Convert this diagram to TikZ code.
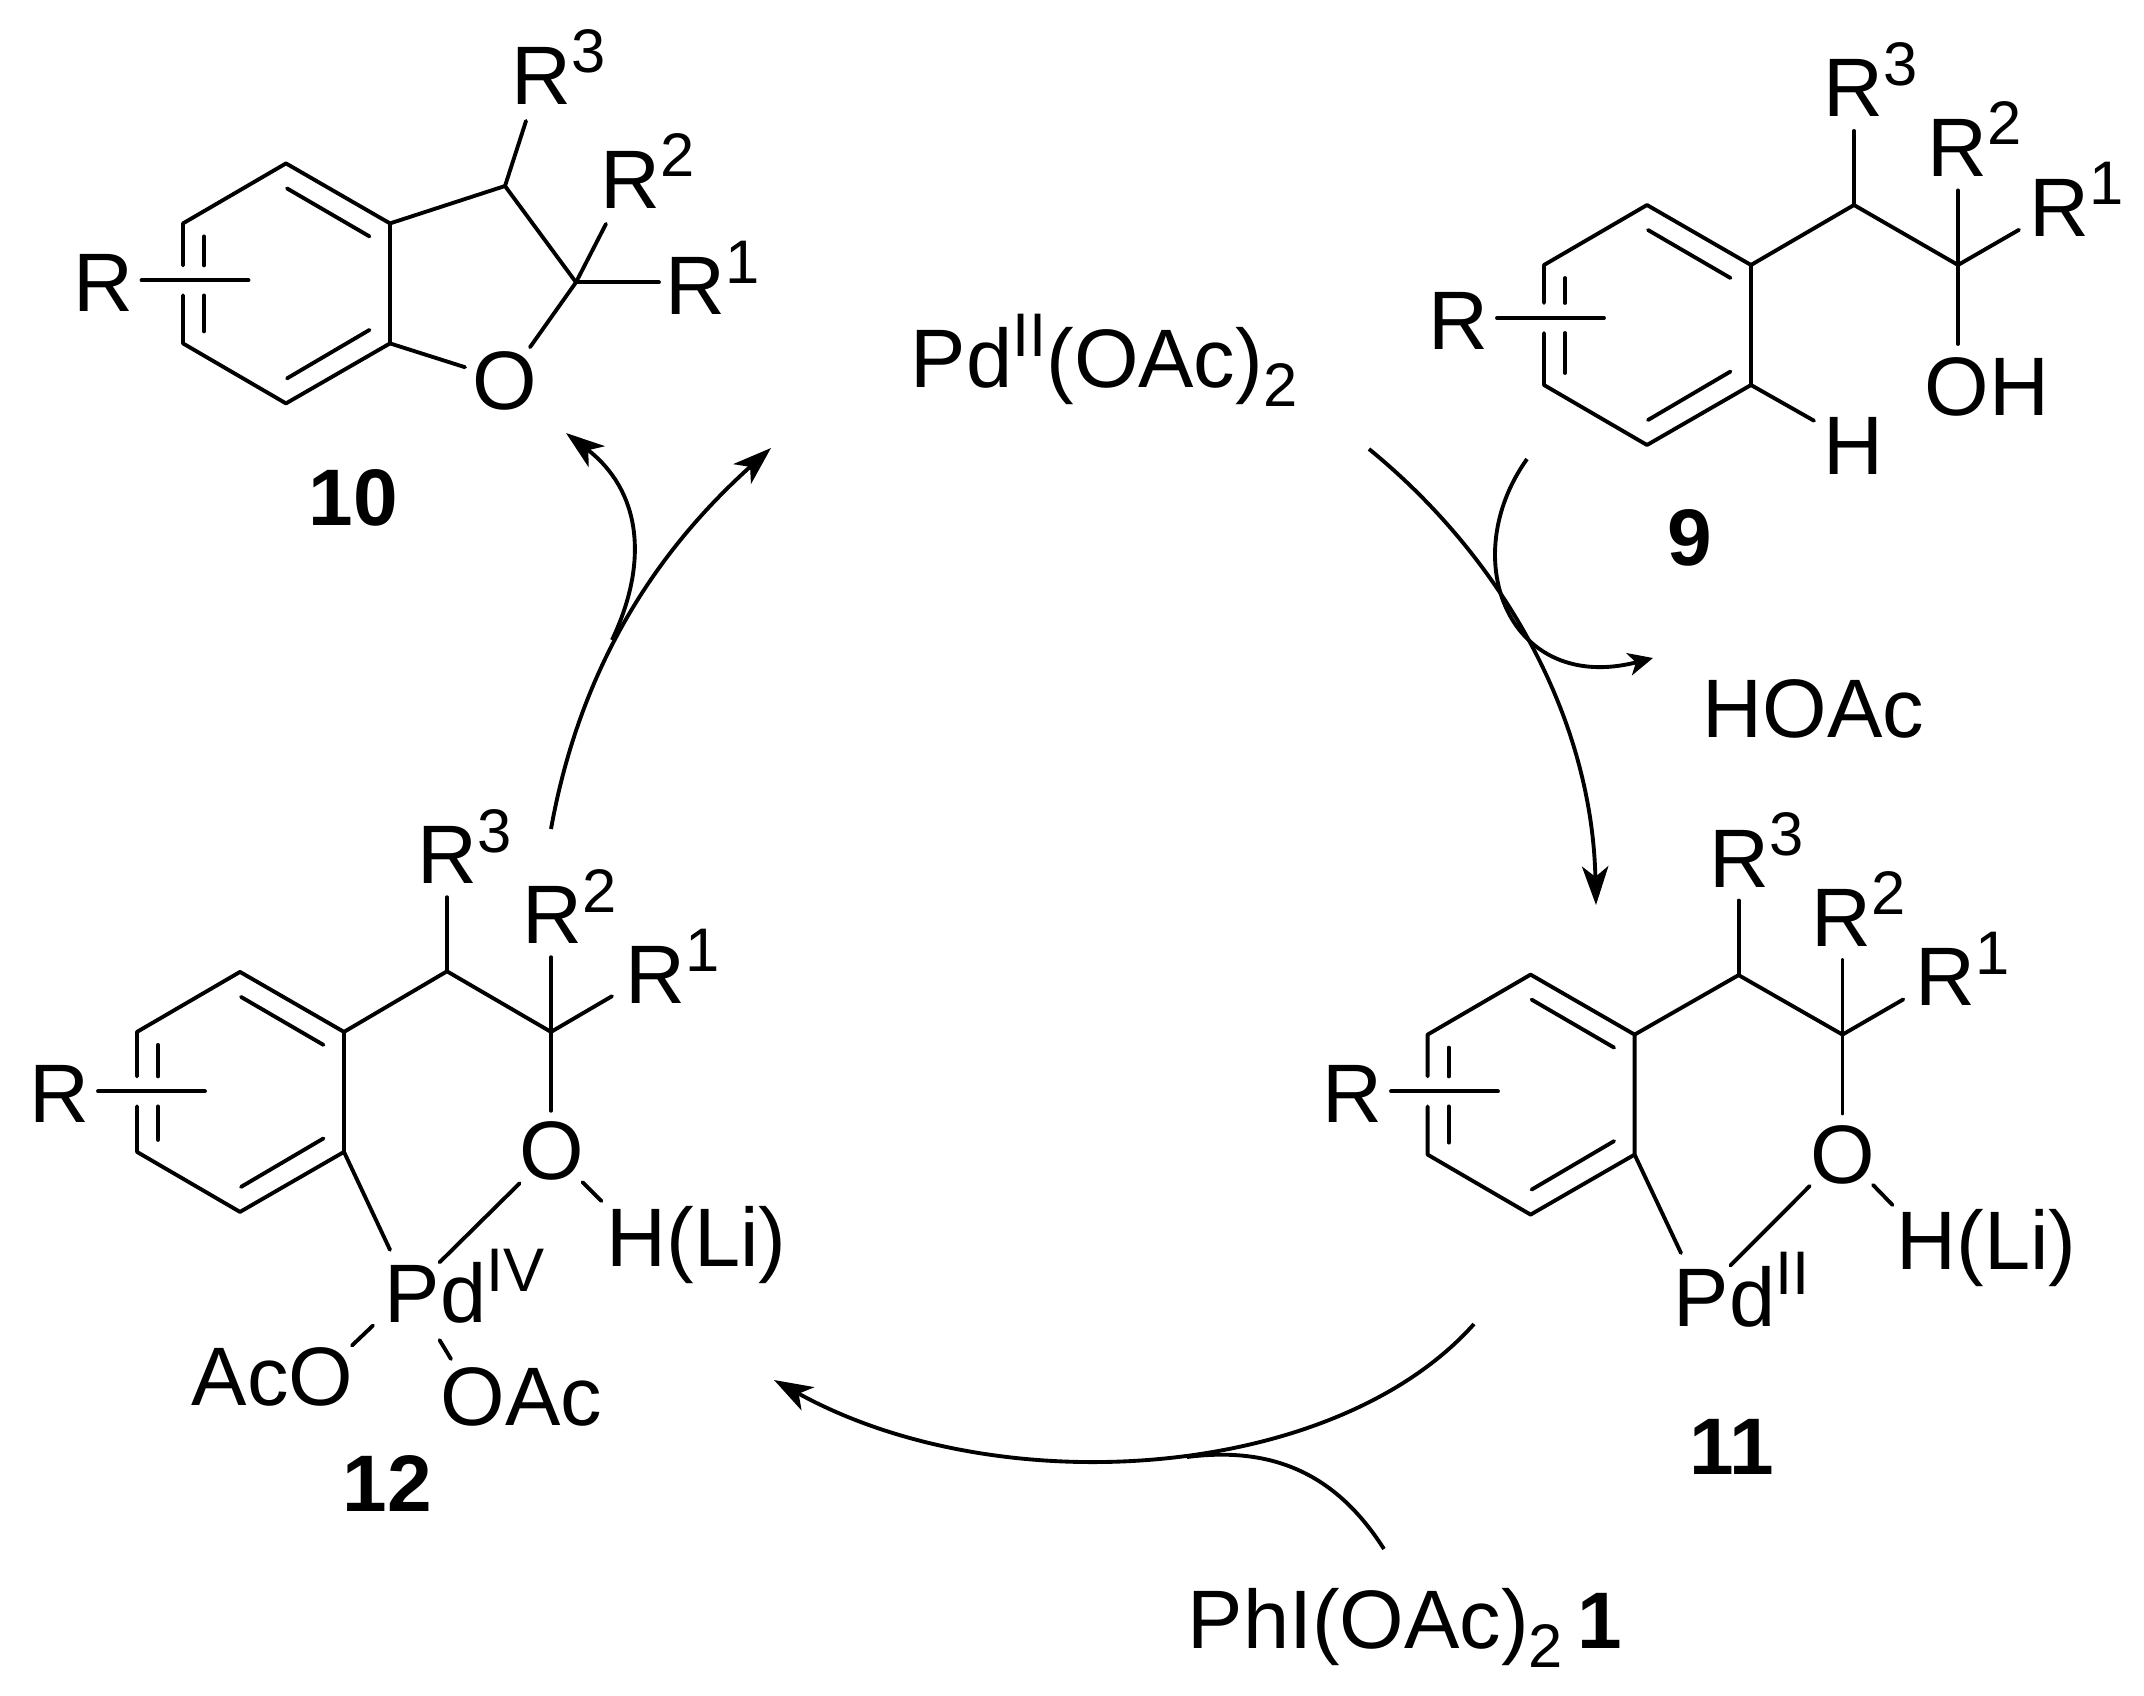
\documentclass[tikz,border=0pt]{standalone}
\usepackage{fontspec}
\setmainfont{Liberation Sans}
\usetikzlibrary{arrows.meta}
\newcommand{\chemfont}{\fontsize{23.6}{26}\selectfont}
\newcommand{\tagfont}{\fontsize{22.8}{26}\selectfont\bfseries}
\newcommand{\upidx}[1]{\raisebox{9pt}{\fontsize{17.5}{17}\selectfont #1}}
\newcommand{\lowidx}[1]{\raisebox{-5.4pt}{\fontsize{17.5}{17}\selectfont #1}}
\tikzset{
	atom/.style={anchor=base west, inner sep=0pt, font=\chemfont},
	tag/.style={anchor=base west, inner sep=0pt, font=\tagfont},
	bond/.style={line width=1.1pt, line cap=round, line join=round},
	cycle/.style={line width=1.1pt, -{Stealth[length=11pt, width=7.5pt, inset=3pt]}},
	side/.style={line width=1.1pt, -{Stealth[length=7pt, width=6.5pt, inset=2pt]}},
}
% ring with its R group: name, corner x, corner y, R bond dx, R bond dy
\newcommand{\arylring}[5]{
	\begin{scope}[shift={(#2,#3)}]
		\coordinate (#1a) at (0,0);
		\coordinate (#1b) at (-104,-60);
		\coordinate (#1c) at (-207,0);
		\coordinate (#1d) at (-207,120);
		\coordinate (#1e) at (-104,180);
		\coordinate (#1f) at (0,120);
		\draw[bond] (#1c |- 0,#5) ++(0,-15) -- (#1c) -- (#1b) -- (#1a) -- (#1f) -- (#1e) -- (#1d) -- (-207,#5+15);
		\draw[bond] (-103,-35) -- (-20.5,13);
		\draw[bond] (-103,155) -- (-20.5,106.5);
		\draw[bond] (-186,13) -- (-186,#5-15);
		\draw[bond] (-186,#5+15) -- (-186,108);
		\draw[bond] (#4,#5) -- (#4+107,#5);
		\node[atom] (#1R) at (#4-69,#5+31) {R};
	\end{scope}
}

\begin{document}
\begin{tikzpicture}[x=0.01cm, y=-0.01cm]
	\useasboundingbox (0,0) rectangle (2144,1696);

	% product 10
	\arylring{ten}{390}{223.4}{-248.5}{57}
	\coordinate (tenC3) at (505,186);
	\coordinate (tenC2) at (576,282.3);
	\coordinate (tenE3) at (526,121);
	\coordinate (tenE2) at (606,223.9);
	\coordinate (tenE1) at (659,282.3);
	\coordinate (tenO1) at (530,347.2);
	\coordinate (tenO2) at (465,367.2);
	\node[atom] (tenRc) at (511,104.4) {R\upidx{3}};
	\node[atom] (tenRb) at (600,208.2) {R\upidx{2}};
	\node[atom] (tenRa) at (665,314.7) {R\upidx{1}};
	\node[atom] (tenO) at (472,409.4) {O};
	\node[tag] (tenTag) at (308,525.7) {10};
	\draw[bond] (tena) -- (tenC3) -- (tenC2) -- (tenO1);
	\draw[bond] (tenC3) -- (tenE3);
	\draw[bond] (tenC2) -- (tenE2);
	\draw[bond] (tenC2) -- (tenE1);
	\draw[bond] (tenf) -- (tenO2);

	% catalyst
	\node[atom] (cat) at (910,387.8) {Pd\upidx{II}(OAc)\lowidx{2}};

	% substrate 9
	\arylring{nine}{1751}{265}{-254}{53}
	\coordinate (nineC3) at (1854,205);
	\coordinate (nineC2) at (1958,265);
	\coordinate (nineE3) at (1854,130.9);
	\coordinate (nineE2) at (1958,190.4);
	\coordinate (nineE1) at (2019,229.8);
	\coordinate (nineEO) at (1958,344);
	\coordinate (nineEH) at (1814,420.7);
	\node[atom] (nineRc) at (1823,116.8) {R\upidx{3}};
	\node[atom] (nineRb) at (1927,176.3) {R\upidx{2}};
	\node[atom] (nineRa) at (2029,236.3) {R\upidx{1}};
	\node[atom] (nineOH) at (1924,415.3) {OH};
	\node[atom] (nineH) at (1823,474.8) {H};
	\node[tag] (nineTag) at (1667,565) {9};
	\node[atom] (hoac) at (1702,737.7) {HOAc};
	\draw[bond] (ninea) -- (nineC3) -- (nineC2) -- (nineE1);
	\draw[bond] (nineC3) -- (nineE3);
	\draw[bond] (nineC2) -- (nineE2);
	\draw[bond] (nineC2) -- (nineEO);
	\draw[bond] (ninef) -- (nineEH);

	% palladium(II) complex 11
	\arylring{ele}{1634.6}{1034.6}{-243.6}{56.8}
	\coordinate (eleC3) at (1738.6,975.1);
	\coordinate (eleC2) at (1842.5,1034.6);
	\coordinate (eleE3) at (1738.6,900.5);
	\coordinate (eleE2) at (1842.5,960);
	\coordinate (eleE1) at (1903.3,999.4);
	\coordinate (eleEO) at (1842.5,1113.5);
	\coordinate (elePd) at (1681,1253);
	\coordinate (eleOa) at (1809.7,1186);
	\coordinate (eleOb) at (1730.4,1265.5);
	\coordinate (eleHa) at (1873,1184.9);
	\coordinate (eleHb) at (1892.4,1204.9);
	\node[atom] (eleRc) at (1708.6,887) {R\upidx{3}};
	\node[atom] (eleRb) at (1811,946.4) {R\upidx{2}};
	\node[atom] (eleRa) at (1914.4,1005.9) {R\upidx{1}};
	\node[atom] (eleO) at (1810,1183.3) {O};
	\node[atom] (eleH) at (1896,1269.3) {H(Li)};
	\node[atom] (elePdII) at (1673,1326) {Pd\upidx{II}};
	\node[tag] (eleTag) at (1689,1474.2) {11};
	\draw[bond] (elea) -- (eleC3) -- (eleC2) -- (eleE1);
	\draw[bond] (eleC3) -- (eleE3);
	\draw[bond] (eleC2) -- (eleE2);
	\draw[bond] (eleC2) -- (eleEO);
	\draw[bond] (elef) -- (elePd);
	\draw[bond] (eleOa) -- (eleOb);
	\draw[bond] (eleHa) -- (eleHb);

	% palladium(IV) complex 12
	\arylring{twe}{344}{1031.9}{-246}{59.5}
	\coordinate (tweC3) at (447,971.3);
	\coordinate (tweC2) at (551,1031.9);
	\coordinate (tweE3) at (447,897.2);
	\coordinate (tweE2) at (551,957.2);
	\coordinate (tweE1) at (612,996.2);
	\coordinate (tweEO) at (551,1110.8);
	\coordinate (twePd) at (390,1249.8);
	\coordinate (tweOa) at (519.6,1183.3);
	\coordinate (tweOb) at (439.6,1262.3);
	\coordinate (tweHa) at (582.5,1182.2);
	\coordinate (tweHb) at (601.6,1201.1);
	\coordinate (tweLa) at (373,1325.5);
	\coordinate (tweLb) at (352,1345.5);
	\coordinate (tweMa) at (439.6,1340.1);
	\coordinate (tweMb) at (451,1359);
	\node[atom] (tweRc) at (416.5,883.7) {R\upidx{3}};
	\node[atom] (tweRb) at (522,943.7) {R\upidx{2}};
	\node[atom] (tweRa) at (625,1003.2) {R\upidx{1}};
	\node[atom] (tweO) at (519,1179) {O};
	\node[atom] (tweH) at (606,1266) {H(Li)};
	\node[atom] (twePdIV) at (384,1322.8) {Pd\upidx{IV}};
	\node[atom] (tweAcO) at (191,1405) {AcO};
	\node[atom] (tweOAc) at (440,1425) {OAc};
	\node[tag] (tweTag) at (342,1511.6) {12};
	\draw[bond] (twea) -- (tweC3) -- (tweC2) -- (tweE1);
	\draw[bond] (tweC3) -- (tweE3);
	\draw[bond] (tweC2) -- (tweE2);
	\draw[bond] (tweC2) -- (tweEO);
	\draw[bond] (twef) -- (twePd);
	\draw[bond] (tweOa) -- (tweOb);
	\draw[bond] (tweHa) -- (tweHb);
	\draw[bond] (tweLa) -- (tweLb);
	\draw[bond] (tweMa) -- (tweMb);

	% oxidant
	\node[atom] (oxid) at (1187,1648.4) {PhI(OAc)\lowidx{2}\hspace{4pt}{\tagfont 1}};

	% catalytic cycle
	\coordinate (arcAs) at (551,829);
	\coordinate (arcAe) at (771,448);
	\coordinate (arcBs) at (612,640);
	\coordinate (arcBe) at (566,433);
	\coordinate (arcCs) at (1369,449);
	\coordinate (arcCe) at (1596,905);
	\coordinate (arcDs) at (1527,459);
	\coordinate (arcDe) at (1653,658);
	\coordinate (arcEs) at (1474,1324);
	\coordinate (arcEe) at (774,1380);
	\coordinate (arcFs) at (1384,1549);
	\coordinate (arcFe) at (1187,1457);
	\draw[cycle] (arcAs) .. controls (585,640) and (680,530) .. (arcAe);
	\draw[cycle] (arcBs) .. controls (650,560) and (640,490) .. (arcBe);
	\draw[cycle] (arcCs) .. controls (1505,560) and (1592,720) .. (arcCe);
	\draw[side] (arcDs) .. controls (1455,560) and (1510,695) .. (arcDe);
	\draw[cycle] (arcEs) .. controls (1335,1480) and (1000,1505) .. (arcEe);
	\draw[line width=1.1pt] (arcFs) .. controls (1340,1480) and (1280,1445) .. (arcFe);
\end{tikzpicture}
\end{document}
